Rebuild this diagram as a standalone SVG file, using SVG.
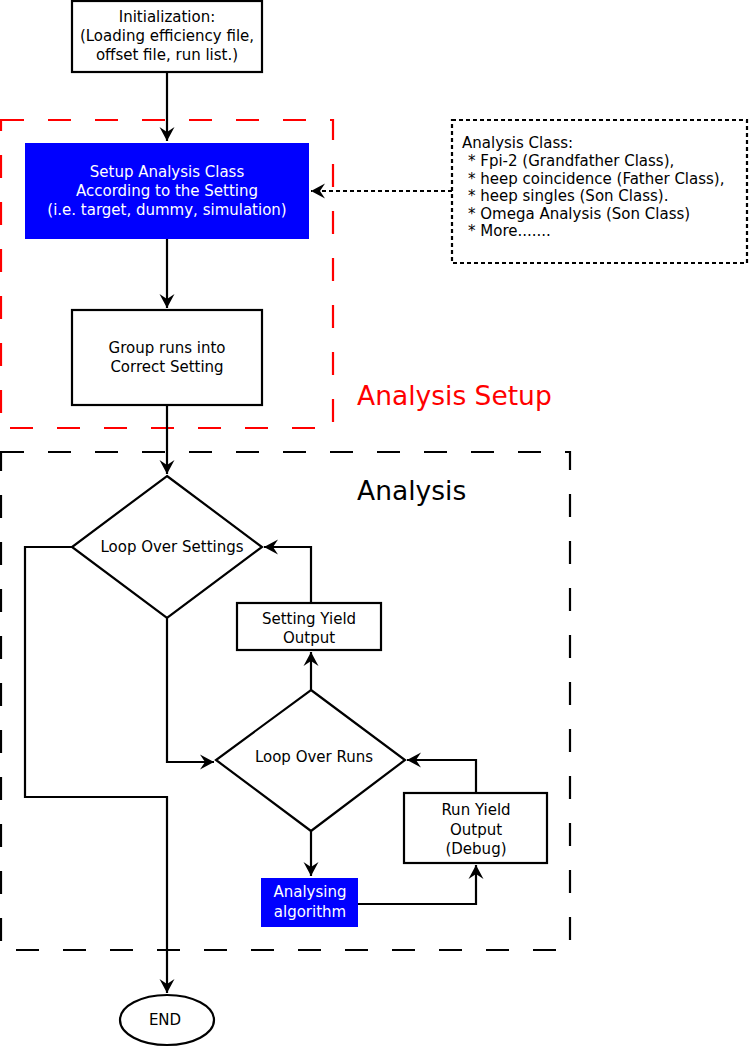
<svg xmlns="http://www.w3.org/2000/svg" width="749" height="1047" viewBox="0 0 749 1047">
<style>
text{font-family:"DejaVu Sans",sans-serif;font-size:15px;fill:#000}
.c{text-anchor:middle}
.w{fill:#fff}
.box{fill:#fff;stroke:#000;stroke-width:2.2}
.blue{fill:#0000ff;stroke:none}
.ln{fill:none;stroke:#000;stroke-width:2.2}
.big{font-size:26.5px}
</style>
<defs>
<marker id="arr" markerUnits="userSpaceOnUse" markerWidth="18" markerHeight="18" viewBox="-16 -9 18 18" refX="0" refY="0" orient="auto">
<path d="M0,0 L-14,-7.5 L-9,0 L-14,7.5 Z" fill="#000"/>
</marker>
</defs>
<g id="regions">
<rect x="1" y="120" width="332" height="308" fill="none" stroke="#ff0000" stroke-width="2.2" stroke-dasharray="23,24"/>
<text x="357" y="405" class="big" style="fill:#ff0000">Analysis Setup</text>
<rect x="1" y="452" width="569" height="498" fill="none" stroke="#000" stroke-width="2.2" stroke-dasharray="23,24"/>
<text x="357" y="500" class="big">Analysis</text>
</g>
<g id="connectors">
<path class="ln" d="M167,72 V141" marker-end="url(#arr)"/>
<path class="ln" d="M452,191 H311" stroke-dasharray="4,3" marker-end="url(#arr)"/>
<path class="ln" d="M167,239 V308" marker-end="url(#arr)"/>
<path class="ln" d="M167,405 V474" marker-end="url(#arr)"/>
<path class="ln" d="M72,547 H25 V797 H167 V993" marker-end="url(#arr)"/>
<path class="ln" d="M167,618 V762 H214" marker-end="url(#arr)"/>
<path class="ln" d="M311,690 V652" marker-end="url(#arr)"/>
<path class="ln" d="M311,603 V547 H264" marker-end="url(#arr)"/>
<path class="ln" d="M311,831 V876" marker-end="url(#arr)"/>
<path class="ln" d="M358,904 H476 V865" marker-end="url(#arr)"/>
<path class="ln" d="M476,793 V760 H407" marker-end="url(#arr)"/>
</g>
<g id="init">
<rect class="box" x="72" y="1" width="190" height="71"/>
<text class="c" x="167" y="22">Initialization:</text>
<text class="c" x="167" y="41">(Loading efficiency file,</text>
<text class="c" x="167" y="60">offset file, run list.)</text>
</g>
<g id="setup">
<rect class="blue" x="25" y="143" width="284" height="96"/>
<text class="c w" x="167" y="177">Setup Analysis Class</text>
<text class="c w" x="167" y="196">According to the Setting</text>
<text class="c w" x="167" y="215">(i.e. target, dummy, simulation)</text>
</g>
<g id="classes">
<rect x="452" y="120" width="295" height="143" fill="#fff" stroke="#000" stroke-width="2.2" stroke-dasharray="4,3"/>
<text x="462" y="148">Analysis Class:</text>
<text x="468" y="166">* Fpi-2 (Grandfather Class),</text>
<text x="468" y="184">* heep coincidence (Father Class),</text>
<text x="468" y="201">* heep singles (Son Class).</text>
<text x="468" y="219">* Omega Analysis (Son Class)</text>
<text x="468" y="236">* More.......</text>
</g>
<g id="group">
<rect class="box" x="72" y="310" width="190" height="95"/>
<text class="c" x="167" y="353">Group runs into</text>
<text class="c" x="167" y="372">Correct Setting</text>
</g>
<g id="loopSettings">
<path class="box" d="M167,476 L262,547 L167,618 L72,547 Z"/>
<text class="c" x="172" y="552">Loop Over Settings</text>
</g>
<g id="settingYield">
<rect class="box" x="237" y="603" width="144" height="47"/>
<text class="c" x="309" y="624">Setting Yield</text>
<text class="c" x="309" y="643">Output</text>
</g>
<g id="loopRuns">
<path class="box" d="M311,690 L405,760 L311,831 L216,760 Z"/>
<text class="c" x="314" y="762">Loop Over Runs</text>
</g>
<g id="algorithm">
<rect class="blue" x="261" y="878" width="97" height="49"/>
<text class="c w" x="310" y="897">Analysing</text>
<text class="c w" x="310" y="917">algorithm</text>
</g>
<g id="runYield">
<rect class="box" x="404" y="793" width="143" height="70"/>
<text class="c" x="476" y="815">Run Yield</text>
<text class="c" x="476" y="835">Output</text>
<text class="c" x="476" y="854">(Debug)</text>
</g>
<g id="end">
<ellipse class="box" cx="167" cy="1020" rx="47" ry="25"/>
<text class="c" x="165" y="1025">END</text>
</g>
</svg>
